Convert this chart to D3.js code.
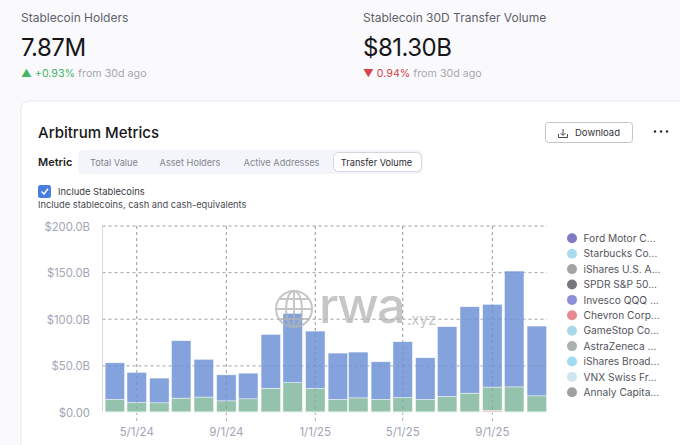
<!DOCTYPE html>
<html>
<head>
<meta charset="utf-8">
<script src="https://cdn.jsdelivr.net/npm/d3@7"></script>
<style>
  html, body { margin: 0; padding: 0; background: #fafafc; overflow: hidden; }
  text { font-family: Inter, "Noto Sans", sans-serif; }
</style>
</head>
<body>
<svg id="chart" width="680" height="445"></svg>
<script>
// months run Apr 2024 to Nov 2025
const months = ["2024-04-01","2024-05-01","2024-06-01","2024-07-01","2024-08-01","2024-09-01","2024-10-01","2024-11-01","2024-12-01","2025-01-01","2025-02-01","2025-03-01","2025-04-01","2025-05-01","2025-06-01","2025-07-01","2025-08-01","2025-09-01","2025-10-01","2025-11-01"];
// values in $B
const baseValues  = [0.7,0.7,0.7,0.7,0.7,0.7,0.7,0.7,0.7,0.7,0.7,0.7,0.7,0.7,0.7,0.7,0.7,0.7,0.7,0.7];
const redValues   = [0,0,0,0,0,0,0,0,0,0,0,0,0,0,0,0,0,1.3,0,0];
const greenValues = [13.3,10,9.7,14.7,15.8,11.8,14,25.3,31.3,25.1,13.3,15,13.3,15.3,13.3,16.5,20,25.2,26.8,17.2];
const blueValues  = [39.3,32.3,26.5,61.6,40.5,27.9,27.5,57.7,74.3,61.5,49.7,49.1,40.4,59.9,44.7,74.8,92.7,88.8,124.2,74.8];

const yTicks = [0, 50, 100, 150, 200];
const yTickLabels = ["$0.00", "$50.0B", "$100.0B", "$150.0B", "$200.0B"];
const xTicks = ["2024-05-01","2024-09-01","2025-01-01","2025-05-01","2025-09-01"];

const legendNames = ["Ford Motor C...","Starbucks Co...","iShares U.S. A...","SPDR S&P 50...","Invesco QQQ ...","Chevron Corp...","GameStop Co...","AstraZeneca ...","iShares Broad...","VNX Swiss Fr...","Annaly Capita..."];
const legendColors = ["#7f7cc4","#a9dcec","#a3a3a6","#77777b","#8c8fd6","#e58a90","#a8d8ea","#a8b0b0","#a2daf0","#cfe6f2","#a0a0a4"];

const tabNames = ["Total Value","Asset Holders","Active Addresses"];
const tabCenters = [114, 190, 281.5];

const svg = d3.select("#chart");
const parseDay = d3.utcParse("%Y-%m-%d");
const muted = "#a3a5b5";

// top stats
function stat(x, label, value, arrow, change, color) {
    svg.append("text").attr("x", x).attr("y", 22).attr("font-size", 12).attr("fill", "#5f6068").text(label);
    svg.append("text").attr("x", x).attr("y", 56).attr("font-size", 24).attr("letter-spacing", -0.5).attr("fill", "#16161a").text(value);
    const row = svg.append("text").attr("x", x).attr("y", 77).attr("font-size", 10.7);
    row.append("tspan").attr("fill", color).text(arrow + " " + change);
    row.append("tspan").attr("fill", "#a6a7b0").text(" from 30d ago");
}
stat(21, "Stablecoin Holders", "7.87M", "\u25B2", "+0.93%", "#46b46a");
stat(363, "Stablecoin 30D Transfer Volume", "$81.30B", "\u25BC", "0.94%", "#d5454f");

// card
svg.append("rect").attr("x", 21).attr("y", 101).attr("width", 700).attr("height", 380).attr("rx", 8)
    .attr("fill", "#fff").attr("stroke", "#e9e9ee");
svg.append("text").attr("x", 38).attr("y", 138).attr("font-size", 15).attr("font-weight", 500).attr("fill", "#16161a").text("Arbitrum Metrics");

// download button + menu
svg.append("rect").attr("x", 545.5).attr("y", 122.5).attr("width", 87).attr("height", 20).attr("rx", 3)
    .attr("fill", "#fff").attr("stroke", "#c4c5cb");
const dl = svg.append("g").attr("fill", "none").attr("stroke", "#33343a").attr("stroke-width", 0.9);
dl.append("path").attr("d", "M563 129V135M560.5 133L563 135.5L565.5 133M558.5 134V137.5H567.5V134");
svg.append("text").attr("x", 575).attr("y", 136).attr("font-size", 9.5).attr("fill", "#33343a").text("Download");
svg.append("g").attr("fill", "#26262c").selectAll("circle").data([655, 661, 667]).join("circle")
    .attr("cx", d => d).attr("cy", 131.5).attr("r", 1.2);

// metric tabs
svg.append("text").attr("x", 38).attr("y", 166).attr("font-size", 11).attr("font-weight", 600).attr("fill", "#1d1d22").text("Metric");
svg.append("rect").attr("x", 78).attr("y", 150).attr("width", 345).attr("height", 24).attr("rx", 5).attr("fill", "#f3f5fb");
svg.selectAll(".tab").data(tabNames).join("text").attr("class", "tab")
    .attr("x", (d, i) => tabCenters[i]).attr("y", 166).attr("text-anchor", "middle")
    .attr("font-size", 9.2).attr("fill", "#84868f").text(d => d);
svg.append("rect").attr("x", 333.5).attr("y", 152.5).attr("width", 88).attr("height", 19).attr("rx", 5)
    .attr("fill", "#fff").attr("stroke", "#d3d4dc");
svg.append("text").attr("x", 376.5).attr("y", 166).attr("text-anchor", "middle").attr("font-size", 9.2).attr("fill", "#2b2c32").text("Transfer Volume");

// checkbox
svg.append("rect").attr("x", 38).attr("y", 185).attr("width", 13).attr("height", 13).attr("rx", 2.5).attr("fill", "#4a7de2");
svg.append("path").attr("d", "M41.5 191.5L44 194L48 188.8").attr("fill", "none").attr("stroke", "#fff").attr("stroke-width", 1.4);
svg.append("text").attr("x", 58).attr("y", 195).attr("font-size", 9.4).attr("fill", "#3a3b42").text("Include Stablecoins");
svg.append("text").attr("x", 38).attr("y", 208).attr("font-size", 9.3).attr("fill", "#4a4b52").text("Include stablecoins, cash and cash-equivalents");

// scales
const x = d3.scaleUtc().domain([parseDay("2024-03-15"), parseDay("2025-11-15")]).range([102.5, 547]);
const y = d3.scaleLinear().domain([0, 200]).range([412.5, 226]);
const barWidth = 19.5;

// grid
svg.append("g").selectAll("line").data(yTicks.slice(1)).join("line")
    .attr("x1", 102.5).attr("x2", 547).attr("y1", d => y(d)).attr("y2", d => y(d))
    .attr("stroke", "#b8b8b8").attr("stroke-dasharray", "3 3");
svg.append("g").selectAll("line").data(xTicks).join("line")
    .attr("x1", d => x(parseDay(d))).attr("x2", d => x(parseDay(d))).attr("y1", 226).attr("y2", 421)
    .attr("stroke", "#adadad").attr("stroke-dasharray", "3 3");
svg.append("line").attr("x1", 102.5).attr("x2", 102.5).attr("y1", 226).attr("y2", 412.5).attr("stroke", "#d8d9de");

// stacked bars
const table = months.map((m, i) => ({ date: parseDay(m), base: baseValues[i], red: redValues[i], green: greenValues[i], blue: blueValues[i] }));
const stack = d3.stack().keys(["base", "red", "green", "blue"]);
const fills = { base: "#cdeee0", red: "#eda5a8", green: "#91bfa9", blue: "#7f9fdb" };

svg.append("g").selectAll("g").data(stack(table)).join("g")
    .attr("fill", s => fills[s.key])
    .selectAll("rect").data(s => s.filter(d => d[1] > d[0])).join("rect")
    .attr("x", d => x(d.data.date) - barWidth / 2)
    .attr("width", barWidth)
    .attr("y", d => y(d[1]))
    .attr("height", d => y(d[0]) - y(d[1]))
    .attr("fill-opacity", 0.96)
    .attr("stroke", "#fff")
    .attr("stroke-opacity", 0.75)
    .attr("stroke-width", 0.6);

// dashed lines show faintly through the bars
svg.append("g").selectAll("line").data(yTicks.slice(1)).join("line")
    .attr("x1", 102.5).attr("x2", 547).attr("y1", d => y(d)).attr("y2", d => y(d))
    .attr("stroke", "#5e6b8c").attr("stroke-opacity", 0.2).attr("stroke-dasharray", "3 3");
svg.append("g").selectAll("line").data(xTicks).join("line")
    .attr("x1", d => x(parseDay(d))).attr("x2", d => x(parseDay(d))).attr("y1", 226).attr("y2", 412)
    .attr("stroke", "#5e6b8c").attr("stroke-opacity", 0.25).attr("stroke-dasharray", "3 3");

// axes labels
svg.append("g").selectAll("text").data(yTicks).join("text")
    .attr("x", 90).attr("y", d => y(d) + 4.5).attr("text-anchor", "end")
    .attr("font-size", 11.3).attr("fill", muted).text((d, i) => yTickLabels[i]);
svg.append("g").selectAll("text").data(xTicks).join("text")
    .attr("x", d => x(parseDay(d))).attr("y", 436).attr("text-anchor", "middle")
    .attr("font-size", 11.5).attr("fill", muted).text(d => d3.utcFormat("%-m/%-d/%y")(parseDay(d)));

// watermark
const mark = svg.append("g").attr("fill", "none").attr("stroke", "#b4b4b4").attr("stroke-width", 2).attr("opacity", 0.75);
mark.append("circle").attr("cx", 294).attr("cy", 309).attr("r", 18);
mark.append("ellipse").attr("cx", 294).attr("cy", 309).attr("rx", 8).attr("ry", 18);
mark.append("path").attr("d", "M294 291V327M276 309H312M279 299H309M279 319H309");
svg.append("text").attr("x", 319).attr("y", 323).attr("font-size", 50).attr("font-weight", 500).attr("letter-spacing", -1.5).attr("fill", "#b4b4b4").attr("opacity", 0.75).text("rwa");
svg.append("text").attr("x", 407).attr("y", 325).attr("font-size", 15).attr("fill", "#b4b4b4").attr("opacity", 0.75).text(".xyz");

// legend
const legendY = d3.scalePoint().domain(legendNames).range([238.3, 392.3]);
const legend = svg.append("g").selectAll("g").data(legendNames).join("g")
    .attr("transform", d => `translate(572,${legendY(d)})`);
legend.append("circle").attr("r", 5).attr("fill", (d, i) => legendColors[i]);
legend.append("text").attr("x", 11.5).attr("y", 3.7).attr("font-size", 10.2).attr("fill", "#53545c").text(d => d);
</script>
</body>
</html>
